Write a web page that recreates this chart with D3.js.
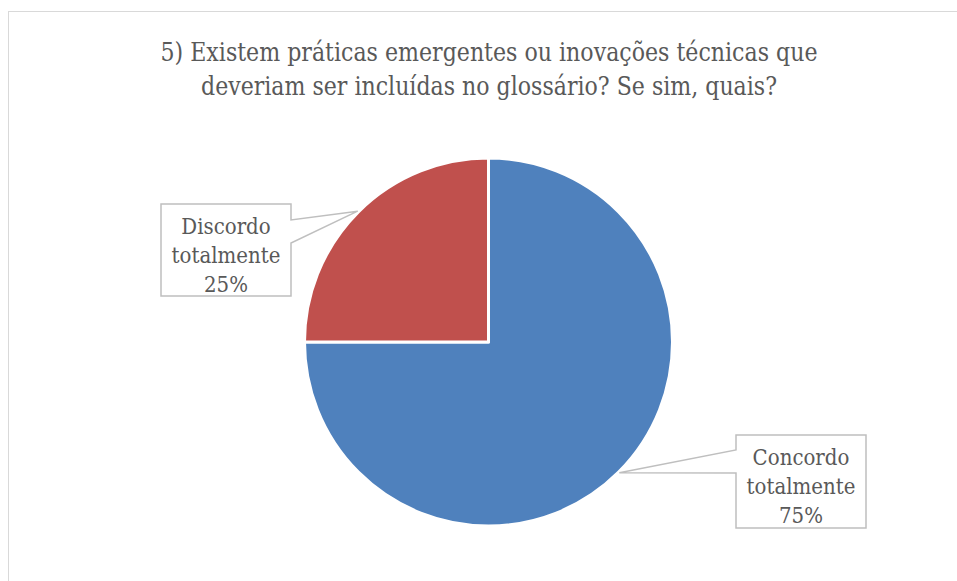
<!DOCTYPE html>
<html><head><meta charset="utf-8">
<script src="https://cdn.jsdelivr.net/npm/d3@7"></script>
<style>
html,body{margin:0;padding:0;background:#fff;}
svg{display:block;}
text{font-family:"DejaVu Serif","Liberation Serif",serif;fill:#595959;}
</style></head>
<body>
<svg id="c" width="957" height="581"></svg>
<script>
const titleLines = ["5) Existem práticas emergentes ou inovações técnicas que", "deveriam ser incluídas no glossário? Se sim, quais?"];
const categories = ["Concordo totalmente", "Discordo totalmente"];
const values = [75, 25];
const percentLabels = ["75%", "25%"];
const colors = ["#4F81BD", "#C0504D"];

const svg = d3.select("#c");
// chart frame
svg.append("rect").attr("x", 8.5).attr("y", 11.5).attr("width", 1000).attr("height", 700)
  .attr("fill", "#fff").attr("stroke", "#d9d9d9").attr("stroke-width", 1);

// title
const title = svg.append("text").attr("text-anchor", "middle").attr("font-size", 26);
titleLines.forEach((t, i) => {
  title.append("tspan").attr("x", 489).attr("y", 61 + i * 34)
    .attr("textLength", i === 0 ? 657 : 576).attr("lengthAdjust", "spacingAndGlyphs").text(t);
});

const cx = 488.5, cy = 342, r = 184;
const pie = d3.pie().sort(null).value(d => d)(values);
const arc = d3.arc().innerRadius(0).outerRadius(r);
const g = svg.append("g").attr("transform", `translate(${cx},${cy})`);
g.selectAll("path").data(pie).join("path")
  .attr("d", arc).attr("fill", (d, i) => colors[i])
  .attr("stroke", "#fff").attr("stroke-width", 3).attr("stroke-linejoin", "round");

// callout boxes (layout)
const boxes = [
  {x0: 736, y0: 435, x1: 866, y1: 528, side: "left", p0: 450, p1: 473},
  {x0: 161, y0: 204, x1: 291, y1: 296, side: "right", p0: 220, p1: 243}
];
pie.forEach((d, i) => {
  const b = boxes[i];
  const mid = (d.startAngle + d.endAngle) / 2;
  const tx = cx + Math.sin(mid) * (r + 1), ty = cy - Math.cos(mid) * (r + 1);
  let pts;
  if (b.side === "left") {
    pts = [[b.x0, b.y0], [b.x1, b.y0], [b.x1, b.y1], [b.x0, b.y1], [b.x0, b.p1], [tx, ty], [b.x0, b.p0]];
  } else {
    pts = [[b.x0, b.y0], [b.x1, b.y0], [b.x1, b.p0], [tx, ty], [b.x1, b.p1], [b.x1, b.y1], [b.x0, b.y1]];
  }
  svg.append("path").attr("d", d3.line()(pts) + "Z")
    .attr("fill", "#fff").attr("stroke", "#bfbfbf").attr("stroke-width", 1.5);
  const words = categories[i].split(" ").concat([percentLabels[i]]);
  const bxc = (b.x0 + b.x1) / 2;
  const t = svg.append("g").attr("transform", `translate(${bxc},0) scale(0.9,1)`)
    .append("text").attr("text-anchor", "middle").attr("font-size", 22);
  words.forEach((w, j) => {
    t.append("tspan").attr("x", 0).attr("y", b.y0 + 30 + j * 29).text(w);
  });
});
</script>
</body></html>
